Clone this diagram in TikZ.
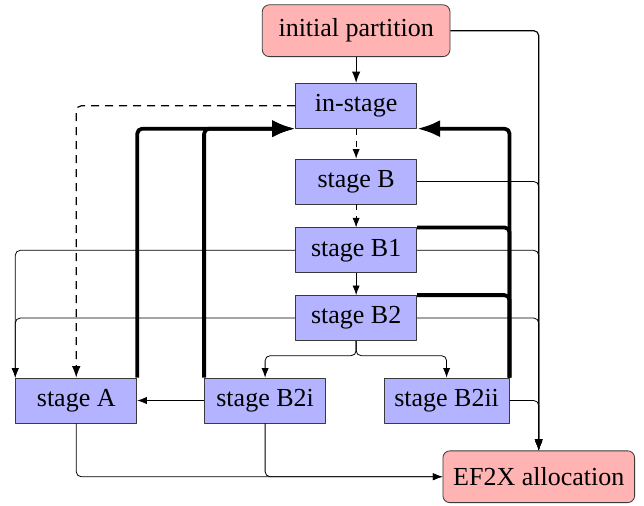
\documentclass[tikz,border=0pt]{standalone}
\usepackage{fontspec}
\setmainfont{Liberation Serif}
\usetikzlibrary{arrows.meta,calc}
\definecolor{StageFill}{HTML}{B3B3FF}
\definecolor{TerminalFill}{HTML}{FFB3B3}
\definecolor{BoxEdge}{HTML}{3A3A3A}

\begin{document}
\begin{tikzpicture}[
  >={Latex},
  line join=round,
  every node/.style={font=\fontsize{13}{15}\selectfont,text=black},
  stagebox/.style={draw=BoxEdge,fill=StageFill,minimum width=2.13cm,
    minimum height=0.79cm,inner sep=2pt},
  terminal/.style={draw=BoxEdge,fill=TerminalFill,rounded corners=3.5pt,
    minimum height=0.91cm,inner sep=2pt},
  flow/.style={->,rounded corners=2.5pt},
  back/.style={flow,line width=1.9pt}
]
  \useasboundingbox (0,0) rectangle (11.32,8.89);

  \node[terminal,minimum width=3.30cm] (init) at (6.26,8.35) {initial partition};
  \node[stagebox] (instage) at (6.26,7.03) {in-stage};
  \node[stagebox] (stageB) at (6.26,5.70) {stage B};
  \node[stagebox] (stageBone) at (6.26,4.49) {stage B1};
  \node[stagebox] (stageBtwo) at (6.26,3.30) {stage B2};
  \node[stagebox] (stageA) at (1.34,1.85) {stage A};
  \node[stagebox] (stageBtwoi) at (4.66,1.85) {stage B2i};
  \node[stagebox,minimum width=2.20cm] (stageBtwoii) at (7.85,1.85) {stage B2ii};
  \node[terminal,minimum width=3.37cm] (alloc) at (9.47,0.51) {EF2X allocation};

  % main line down the middle
  \draw[flow,semithick] (init) -- (instage);
  \draw[flow,semithick] (init.east) -| (alloc.north);
  \draw[flow,semithick,dash pattern=on 4pt off 3pt] (instage.west) -| (stageA.north);
  \draw[flow,dashed] (instage) -- (stageB);
  \draw[flow,dashed] (stageB) -- (stageBone);
  \draw[flow] (stageBone) -- (stageBtwo);

  % exits to the allocation
  \foreach \n in {stageB,stageBone,stageBtwo,stageBtwoii}
    \draw[flow] (\n.east) -| (alloc.north);
  \draw[flow] (stageA.south) |- (alloc.west);
  \draw[flow] (stageBtwoi.south) |- (alloc.west);

  % fall back to stage A
  \foreach \n in {stageBone,stageBtwo}
    \draw[flow] (\n.west) -| (stageA.north west);
  \draw[flow] (stageBtwoi) -- (stageA);

  % split of stage B2
  \coordinate (split) at ($(stageBtwo.south)+(0,-0.26)$);
  \draw[flow] (stageBtwo.south) -- (split) -| (stageBtwoi.north);
  \draw[flow] (stageBtwo.south) -- (split) -| (stageBtwoii.north);

  % restarts of the in-stage
  \draw[back] (stageA.north east) |- (instage.south west);
  \draw[back] (stageBtwoi.north west) |- (instage.south west);
  \draw[back] (stageBtwoii.north east) |- (instage.south east);
  \draw[back,-] (stageBone.north east) -| (stageBtwoii.north east);
  \draw[back,-] (stageBtwo.north east) -| (stageBtwoii.north east);
\end{tikzpicture}
\end{document}
